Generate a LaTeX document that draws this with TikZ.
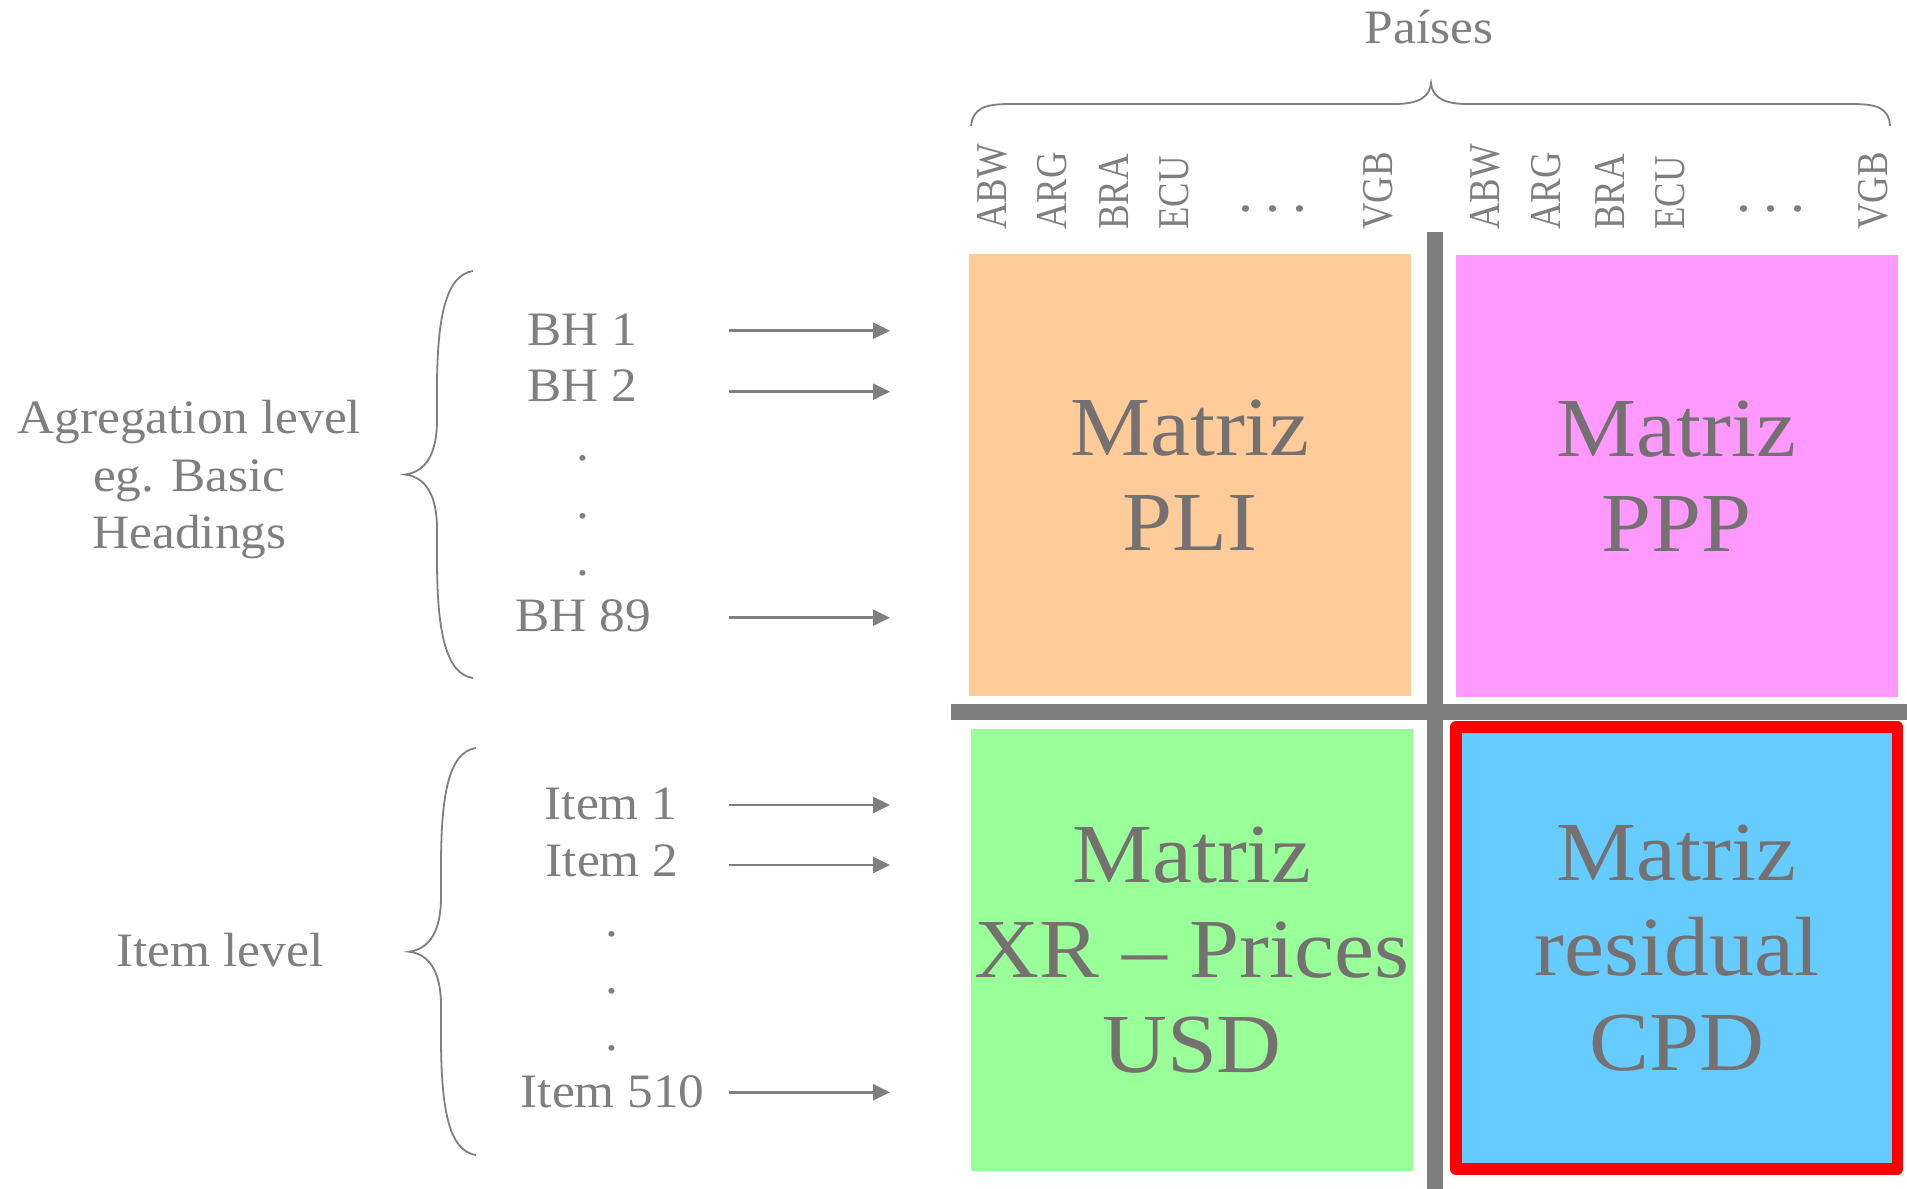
\documentclass[tikz,border=0pt]{standalone}
\usepackage{fontspec}
\setmainfont[FakeStretch=1.07]{Liberation Serif}
\usepackage{graphicx}
\usetikzlibrary{arrows.meta}
\definecolor{txt}{HTML}{767171}
\definecolor{gr}{HTML}{7F7F7F}
\definecolor{cOr}{HTML}{FFCC99}
\definecolor{cPk}{HTML}{FF99FF}
\definecolor{cGn}{HTML}{99FF99}
\definecolor{cBl}{HTML}{66CCFF}
\tikzset{
  lbl/.style={text=gr, inner sep=0pt, anchor=base, font=\fontsize{24}{28.65}\selectfont},
  ctry/.style={text=gr, inner sep=0pt, rotate=90, anchor=base west, font=\fontsize{22}{25}\selectfont},
  dotsx/.style={text=gr, inner sep=0pt, anchor=base, font=\fontsize{28}{30}\selectfont},
  mat/.style={rectangle, inner sep=0pt, minimum width=221pt, minimum height=221pt, text=txt, align=center, font=\fontsize{42}{47.65}\selectfont},
  arr/.style={draw=gr, line width=1.3pt, -{Triangle[length=8.5pt,width=8pt]}},
  brc/.style={draw=gr, line width=0.9pt}
}
\newcommand{\cty}[1]{\scalebox{0.78}[1]{#1}}
\begin{document}
\begin{tikzpicture}[x=0.5pt,y=-0.5pt]
\useasboundingbox (0,0) rectangle (1907,1189);
% matrices
\node[mat, fill=cOr] (pli) at (1190,475) {Matriz\\PLI};
\node[mat, fill=cPk] (ppp) at (1676.5,476) {Matriz\\PPP};
\node[mat, fill=cGn] (xr) at (1192,950) {Matriz\\XR – Prices\\USD};
\node[mat, fill=cBl, draw=red, line width=5.8pt, line join=round, minimum width=220.75pt] (cpd) at (1676.75,948) {Matriz\\residual\\CPD};
% separator bars
\fill[gr] (1427,232) rectangle (1443,1189);
\fill[gr] (951,704) rectangle (1907,720);
% top brace and title
\node[lbl] (pais) at (1429,43) {Países};
\draw[brc] (971,126) .. controls (973,108) and (985,104) .. (1010,104) -- (1395,104)
  .. controls (1420,104) and (1430,96) .. (1431,83)
  .. controls (1432,96) and (1442,104) .. (1467,104) -- (1852,104)
  .. controls (1877,104) and (1889,108) .. (1890,126);
% country labels
\node[ctry] (a1) at (1006,230) {\cty{ABW}};
\node[ctry] (a2) at (1066,230) {\cty{ARG}};
\node[ctry] (a3) at (1128,230) {\cty{BRA}};
\node[ctry] (a4) at (1188,230) {\cty{ECU}};
\node[dotsx] (a5) at (1273,211) {.\hspace{6pt}.\hspace{6pt}.};
\node[ctry] (a6) at (1392,230) {\cty{VGB}};
\node[ctry] (b1) at (1499.5,230) {\cty{ABW}};
\node[ctry] (b2) at (1560.5,230) {\cty{ARG}};
\node[ctry] (b3) at (1624.5,230) {\cty{BRA}};
\node[ctry] (b4) at (1684,230) {\cty{ECU}};
\node[dotsx] (b5) at (1771,211) {.\hspace{6pt}.\hspace{6pt}.};
\node[ctry] (b6) at (1887,230) {\cty{VGB}};
% aggregation level
\node[lbl] (ag1) at (189.4,433) {Agregation level};
\node[lbl] (ag2) at (189.4,491.7) {eg. Basic};
\node[lbl] (ag3) at (189.4,548) {Headings};
\draw[brc] (473,271) .. controls (445,275) and (437,320) .. (437,390) -- (437,420)
  .. controls (437,455) and (425,472) .. (405,474.5)
  .. controls (425,477) and (437,494) .. (437,529) -- (437,559)
  .. controls (437,629) and (445,674) .. (473,678);
\node[lbl] (bh1) at (582,345) {BH 1};
\node[lbl] (bh2) at (582,401.7) {BH 2};
\node[lbl] (d1) at (583,460.5) {.};
\node[lbl] (d2) at (583,518) {.};
\node[lbl] (d3) at (583,575) {.};
\node[lbl] (bh89) at (583,631.7) {BH 89};
\coordinate (s1) at (729,330.7); \coordinate (e1) at (890,330.7);
\coordinate (s2) at (729,391.7); \coordinate (e2) at (890,391.7);
\coordinate (s3) at (729,617.7); \coordinate (e3) at (890,617.7);
\draw[arr] (s1) -- (e1);
\draw[arr] (s2) -- (e2);
\draw[arr] (s3) -- (e3);
% item level
\node[lbl] (il) at (220,966.7) {Item level};
\draw[brc] (476,748) .. controls (448,752) and (441,797) .. (441,867) -- (441,897)
  .. controls (441,932) and (429,949) .. (409,951.7)
  .. controls (429,954) and (441,971) .. (441,1006) -- (441,1036)
  .. controls (441,1106) and (448,1151) .. (476,1155);
\node[lbl] (it1) at (611,819.3) {Item 1};
\node[lbl] (it2) at (612,876) {Item 2};
\node[lbl] (d4) at (612,936) {.};
\node[lbl] (d5) at (612,993) {.};
\node[lbl] (d6) at (612,1050) {.};
\node[lbl] (it510) at (612.7,1107.3) {Item 510};
\coordinate (s4) at (729,805); \coordinate (e4) at (890,805);
\coordinate (s5) at (729,865); \coordinate (e5) at (890,865);
\coordinate (s6) at (729,1092.3); \coordinate (e6) at (890,1092.3);
\draw[arr] (s4) -- (e4);
\draw[arr] (s5) -- (e5);
\draw[arr] (s6) -- (e6);
\end{tikzpicture}
\end{document}
